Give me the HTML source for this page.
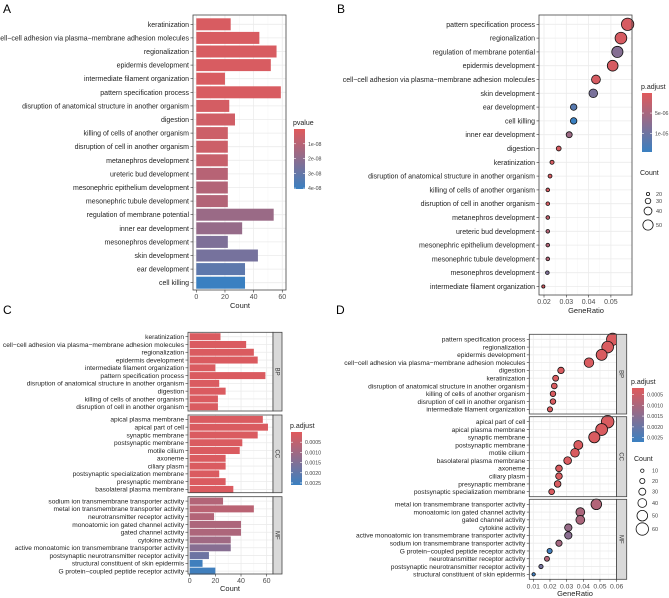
<!DOCTYPE html>
<html><head><meta charset="utf-8"><style>
html,body{margin:0;padding:0;background:#fff}
svg{display:block;font-family:"Liberation Sans",sans-serif}
</style></head><body>
<svg id="fig" width="669" height="598" viewBox="0 0 669 598">
<defs>
<linearGradient id="grad" x1="0" y1="0" x2="0" y2="1"><stop offset="0" stop-color="#e05a5c"/><stop offset="1" stop-color="#3a80c1"/></linearGradient>
</defs>
<text x="3" y="13" font-size="12">A</text>
<text x="337" y="13" font-size="12">B</text>
<text x="3" y="314" font-size="12">C</text>
<text x="336" y="314" font-size="12">D</text>
</svg>
<script>
const A_terms=["keratinization","cell−cell adhesion via plasma−membrane adhesion molecules","regionalization","epidermis development","intermediate filament organization","pattern specification process","disruption of anatomical structure in another organism","digestion","killing of cells of another organism","disruption of cell in another organism","metanephros development","ureteric bud development","mesonephric epithelium development","mesonephric tubule development","regulation of membrane potential","inner ear development","mesonephros development","skin development","ear development","cell killing"];
const A_counts=[24,44,56,52,20,59,23,27,22,22,22,22,22,22,54,32,22,43,34,34];
const A_pvalues=[0.2e-8,0.2e-8,0.2e-8,0.2e-8,0.2e-8,0.2e-8,0.3e-8,0.4e-8,0.5e-8,0.5e-8,0.6e-8,1.0e-8,1.1e-8,1.1e-8,1.7e-8,1.8e-8,2.4e-8,2.6e-8,3.2e-8,4.05e-8];
const A_ticks=[0,20,40,60];
const A_legend=[1e-8,2e-8,3e-8,4e-8];
const A_legendLabels=["1e-08","2e-08","3e-08","4e-08"];

const B_terms=["pattern specification process","regionalization","regulation of membrane potential","epidermis development","cell−cell adhesion via plasma−membrane adhesion molecules","skin development","ear development","cell killing","inner ear development","digestion","keratinization","disruption of anatomical structure in another organism","killing of cells of another organism","disruption of cell in another organism","metanephros development","ureteric bud development","mesonephric epithelium development","mesonephric tubule development","mesonephros development","intermediate filament organization"];
const B_ratio=[0.0575,0.0545,0.0529,0.0508,0.0433,0.0421,0.0333,0.0333,0.0313,0.0266,0.0236,0.0227,0.0217,0.0217,0.0217,0.0217,0.0217,0.0217,0.0215,0.0197];
const B_count=[59,56,54,52,44,43,34,34,32,27,24,23,22,22,22,22,22,22,22,20];
const B_padj=[1e-6,1e-6,8e-6,1e-6,1e-6,9e-6,1.2e-5,1.45e-5,6e-6,1e-6,1e-6,1e-6,1e-6,1e-6,2.5e-6,4e-6,4e-6,4e-6,8.5e-6,1e-6];
const B_ticks=[0.02,0.03,0.04,0.05];
const B_legend=[5e-6,1e-5];
const B_legendLabels=["5e-06","1e-05"];
const B_sizeLegend=[20,30,40,50];

const C_terms=["keratinization","cell−cell adhesion via plasma−membrane adhesion molecules","regionalization","epidermis development","intermediate filament organization","pattern specification process","disruption of anatomical structure in another organism","digestion","killing of cells of another organism","disruption of cell in another organism",
"apical plasma membrane","apical part of cell","synaptic membrane","postsynaptic membrane","motile cilium","axoneme","ciliary plasm","postsynaptic specialization membrane","presynaptic membrane","basolateral plasma membrane",
"sodium ion transmembrane transporter activity","metal ion transmembrane transporter activity","neurotransmitter receptor activity","monoatomic ion gated channel activity","gated channel activity","cytokine activity","active monoatomic ion transmembrane transporter activity","postsynaptic neurotransmitter receptor activity","structural constituent of skin epidermis","G protein−coupled peptide receptor activity"];
const C_ont=["BP","BP","BP","BP","BP","BP","BP","BP","BP","BP","CC","CC","CC","CC","CC","CC","CC","CC","CC","CC","MF","MF","MF","MF","MF","MF","MF","MF","MF","MF"];
const C_counts=[24,44,50,53,20,59,23,28,22,22,57,61,53,41,39,28,28,23,28,34,26,50,19,40,40,32,32,15,10,20];
const C_padj=[0.0001,0.0001,0.0001,0.0001,0.0001,0.0001,0.0001,0.0001,0.0001,0.0001,0.0001,0.0001,0.0001,0.0001,0.0001,0.0001,0.0001,0.0001,0.0001,0.0001,0.0007,0.0006,0.0007,0.0008,0.0008,0.0010,0.0014,0.0018,0.0025,0.0025];
const C_ticks=[0,20,40,60];
const C_legend=[0.0005,0.0010,0.0015,0.0020,0.0025];
const C_legendLabels=["0.0005","0.0010","0.0015","0.0020","0.0025"];

const D_terms=["pattern specification process","regionalization","epidermis development","cell−cell adhesion via plasma−membrane adhesion molecules","digestion","keratinization","disruption of anatomical structure in another organism","killing of cells of another organism","disruption of cell in another organism","intermediate filament organization",
"apical part of cell","apical plasma membrane","synaptic membrane","postsynaptic membrane","motile cilium","basolateral plasma membrane","axoneme","ciliary plasm","presynaptic membrane","postsynaptic specialization membrane",
"metal ion transmembrane transporter activity","monoatomic ion gated channel activity","gated channel activity","cytokine activity","active monoatomic ion transmembrane transporter activity","sodium ion transmembrane transporter activity","G protein−coupled peptide receptor activity","neurotransmitter receptor activity","postsynaptic neurotransmitter receptor activity","structural constituent of skin epidermis"];
const D_ont=C_ont;
const D_ratio=[0.0576,0.0546,0.051,0.0434,0.0266,0.0234,0.0226,0.0218,0.0218,0.020,0.0546,0.051,0.0466,0.037,0.035,0.0306,0.0254,0.0254,0.0246,0.021,0.0478,0.0382,0.0382,0.031,0.031,0.0254,0.0198,0.0182,0.0146,0.0102];
const D_count=[59,56,52,44,27,24,23,22,22,20,61,57,53,41,39,34,28,28,28,23,50,40,40,32,32,26,20,19,15,10];
const D_padj=[0.0003,0.0003,0.0003,0.0003,0.0003,0.0003,0.0003,0.0003,0.0003,0.0003,0.0003,0.0003,0.0003,0.0003,0.0003,0.0003,0.0003,0.0003,0.0003,0.0003,0.0009,0.0010,0.0010,0.0013,0.0015,0.0011,0.0026,0.0009,0.0018,0.0026];
const D_ticks=[0.01,0.02,0.03,0.04,0.05,0.06];
const D_legend=[0.0005,0.0010,0.0015,0.0020,0.0025];
const D_legendLabels=["0.0005","0.0010","0.0015","0.0020","0.0025"];
const D_sizeLegend=[10,20,30,40,50,60];

const NS="http://www.w3.org/2000/svg";
const svg=document.getElementById('fig');
function mk(tag,attrs,parent){const e=document.createElementNS(NS,tag);for(const k in attrs)e.setAttribute(k,attrs[k]);(parent||svg).appendChild(e);return e;}
function color(v,lo,hi){let t=(v-lo)/(hi-lo);t=Math.max(0,Math.min(1,t));const a=[224,90,92],b=[58,128,193];return `rgb(${a.map((c,i)=>Math.round(c+(b[i]-c)*t)).join(',')})`;}
function txt(x,y,s,size,anchor,fill,name){const t=mk('text',{x:x,y:y,'font-size':size,'text-anchor':anchor||'start',fill:fill||'#222'});t.textContent=s;


return t;}
function panelBg(x0,y0,x1,y1,xt,xf,rowYs,name){
  const r=mk('rect',{x:x0,y:y0,width:x1-x0,height:y1-y0,fill:'#fff'});
  
  
  for(let i=0;i<xt.length;i++){const xx=xf(xt[i]);mk('line',{x1:xx,x2:xx,y1:y0,y2:y1,stroke:'#ebebeb','stroke-width':0.8});
    if(i<xt.length-1){const xm=(xx+xf(xt[i+1]))/2;mk('line',{x1:xm,x2:xm,y1:y0,y2:y1,stroke:'#f4f4f4','stroke-width':0.5});}}
  rowYs.forEach(y=>mk('line',{x1:x0,x2:x1,y1:y,y2:y,stroke:'#ebebeb','stroke-width':0.8}));
}
function panelBorder(x0,y0,x1,y1){mk('rect',{x:x0,y:y0,width:x1-x0,height:y1-y0,fill:'none',stroke:'#444','stroke-width':0.8});}
function yLabels(terms,rowYs,x0,size,prefix){terms.forEach((t,i)=>{txt(x0-4,rowYs[i]+size*0.35,t,size,'end','#222',prefix+'-label');mk('line',{x1:x0-2.5,x2:x0,y1:rowYs[i],y2:rowYs[i],stroke:'#333','stroke-width':0.6});});}
function xAxis(ticks,xf,y,size,fmt,prefix){ticks.forEach(v=>{const xx=xf(v);mk('line',{x1:xx,x2:xx,y1:y,y2:y+2.5,stroke:'#333','stroke-width':0.6});txt(xx,y+9,fmt(v),size,'middle','#4d4d4d',prefix+'-x-tick');});}
function colorbar(x,y,w,h,lo,hi,vals,labels,title,ts,prefix){
  txt(x-1,y-4,title,ts,'start','#222',prefix+'-legend-title');
  const r=mk('rect',{x:x,y:y,width:w,height:h,fill:'url(#grad)'});
  
  
  vals.forEach((v,i)=>{const yy=y+(v-lo)/(hi-lo)*h;mk('line',{x1:x,x2:x+2,y1:yy,y2:yy,stroke:'#fff','stroke-width':0.6});mk('line',{x1:x+w-2,x2:x+w,y1:yy,y2:yy,stroke:'#fff','stroke-width':0.6});txt(x+w+3,yy+2,labels[i],ts*0.75,'start','#444',prefix+'-legend-label');});
}
function strip(x0,y0,x1,y1,label){const r=mk('rect',{x:x0,y:y0,width:x1-x0,height:y1-y0,fill:'#d9d9d9',stroke:'#444','stroke-width':0.8});
  
  
  const cx=(x0+x1)/2,cy=(y0+y1)/2;const t=txt(cx,cy,label,6,'middle','#333','facet-strip-label');t.setAttribute('transform',`rotate(90 ${cx} ${cy})`);t.setAttribute('dy','2');}

/* Panel A */
(function(){
  const x0=193,x1=286,y0=15,y1=290;const xf=v=>196.3+v*1.433;const ry=i=>24.3+i*13.6;
  const rows=A_terms.map((_,i)=>ry(i));
  panelBg(x0,y0,x1,y1,A_ticks,xf,rows,'panel-a-plot-area');
  A_counts.forEach((c,i)=>{const b=mk('rect',{x:xf(0),y:ry(i)-6,width:xf(c)-xf(0),height:12,fill:color(A_pvalues[i],0,4.06e-8)});
    
    });
  panelBorder(x0,y0,x1,y1);
  yLabels(A_terms,rows,x0,7,'a-term');
  xAxis(A_ticks,xf,y1,7,v=>v,'a');
  txt(240,308,'Count',7.5,'middle','#222','a-x-axis-title');
  colorbar(294,129,11,60,0,4.06e-8,A_legend,A_legendLabels,'pvalue',7,'a');
})();
/* Panel B */
(function(){
  const x0=539,x1=632,y0=15,y1=295;const xf=v=>544+(v-0.02)*2230;const ry=i=>24.3+i*13.8;
  const rows=B_terms.map((_,i)=>ry(i));
  panelBg(x0,y0,x1,y1,B_ticks,xf,rows,'panel-b-plot-area');
  const rs=c=>1.6+(c-20)/(59-20)*4.6;
  B_ratio.forEach((v,i)=>{const p=mk('circle',{cx:xf(v),cy:ry(i),r:rs(B_count[i]),fill:color(B_padj[i],1e-7,1.45e-5),stroke:'#111','stroke-width':0.8});
    
    });
  panelBorder(x0,y0,x1,y1);
  yLabels(B_terms,rows,x0,7,'b-term');
  xAxis(B_ticks,xf,y1,7,v=>v.toFixed(2),'b');
  txt(586,313,'GeneRatio',7.5,'middle','#222','b-x-axis-title');
  colorbar(642,93,10,59,1e-7,1.45e-5,B_legend,B_legendLabels,'p.adjust',7,'b');
  txt(640,175,'Count',7,'start','#222','b-size-legend-title');
  const ly=[194,201,211,225];
  B_sizeLegend.forEach((c,i)=>{const p=mk('circle',{cx:648,cy:ly[i],r:rs(c),fill:'none',stroke:'#111','stroke-width':0.8});
    
    
    txt(656,ly[i]+2,String(c),5.5,'start','#444','b-size-legend-label');});
})();
/* Panel C */
(function(){
  const x0=188,x1=273,sx1=282;const xf=v=>189.7+v*1.283;
  const panels=[['BP',332.3,411,336.7],['CC',415,492.7,419.4],['MF',496.7,574,501.1]];
  const step=7.78;
  panels.forEach(([g,y0,y1,first])=>{
    const idx=C_ont.map((o,i)=>o===g?i:-1).filter(i=>i>=0);
    const rows=idx.map((_,k)=>first+k*step);
    panelBg(x0,y0,x1,y1,C_ticks,xf,rows,'panel-c-facet-'+g.toLowerCase());
    idx.forEach((i,k)=>{const b=mk('rect',{x:xf(0),y:rows[k]-3.5,width:xf(C_counts[i])-xf(0),height:7,fill:color(C_padj[i],0,0.0026)});
      
      });
    panelBorder(x0,y0,x1,y1);
    strip(x1,y0,sx1,y1,g);
    yLabels(idx.map(i=>C_terms[i]),rows,x0,6.6,'c-term');
  });
  xAxis(C_ticks,xf,574,7,v=>v,'c');
  txt(230,591,'Count',7.5,'middle','#222','c-x-axis-title');
  colorbar(291,432,11,53,0,0.0026,C_legend,C_legendLabels,'p.adjust',7,'c');
})();
/* Panel D */
(function(){
  const x0=529.3,x1=616.5,sx1=626.7;const xf=v=>533.3+(v-0.01)*1667;
  const panels=[['BP',334.3,414,339.3],['CC',416.7,496.7,421.7],['MF',499.3,579.3,504.3]];
  const step=7.78;
  const rs=c=>1.7+(c-10)/(61-10)*4.6;
  panels.forEach(([g,y0,y1,first])=>{
    const idx=D_ont.map((o,i)=>o===g?i:-1).filter(i=>i>=0);
    const rows=idx.map((_,k)=>first+k*step);
    panelBg(x0,y0,x1,y1,D_ticks,xf,rows,'panel-d-facet-'+g.toLowerCase());
    idx.forEach((i,k)=>{const p=mk('circle',{cx:xf(D_ratio[i]),cy:rows[k],r:rs(D_count[i]),fill:color(D_padj[i],0.0002,0.0027),stroke:'#111','stroke-width':0.8});
      
      });
    panelBorder(x0,y0,x1,y1);
    strip(x1,y0,sx1,y1,g);
    yLabels(idx.map(i=>D_terms[i]),rows,x0,6.6,'d-term');
  });
  xAxis(D_ticks,xf,579.3,6.8,v=>v.toFixed(2),'d');
  txt(575,596,'GeneRatio',7.5,'middle','#222','d-x-axis-title');
  colorbar(632,388,12,54,0.0002,0.0027,D_legend,D_legendLabels,'p.adjust',7,'d');
  txt(634,461,'Count',7,'start','#222','d-size-legend-title');
  const ly=[470.7,481,491.7,503,515.7,529];
  D_sizeLegend.forEach((c,i)=>{const p=mk('circle',{cx:642.3,cy:ly[i],r:rs(c),fill:'none',stroke:'#111','stroke-width':0.8});
    
    
    txt(652,ly[i]+2,String(c),5.5,'start','#444','d-size-legend-label');});
})();
</script>
</body></html>
